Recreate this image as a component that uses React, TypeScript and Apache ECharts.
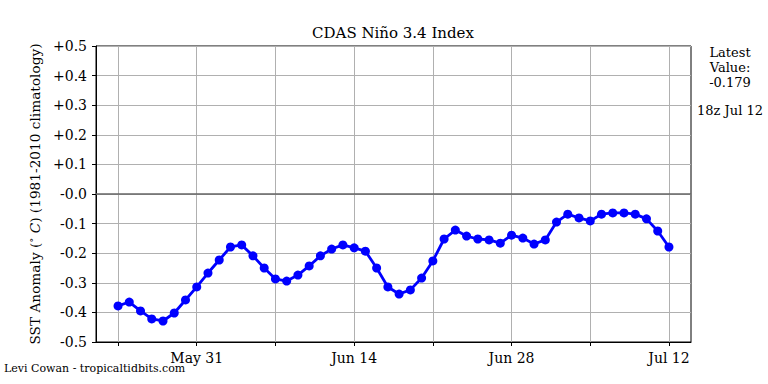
import React, { useEffect, useRef } from "react";
import * as echarts from "echarts";

const dayOffsets = Array.from({ length: 50 }, (_, i) => i);
const anomalies = [
  -0.378, -0.365, -0.395, -0.422, -0.429, -0.402, -0.358, -0.314, -0.267, -0.223,
  -0.179, -0.172, -0.209, -0.25, -0.287, -0.294, -0.274, -0.243, -0.209, -0.186,
  -0.172, -0.182, -0.193, -0.25, -0.314, -0.338, -0.324, -0.284, -0.226, -0.152,
  -0.122, -0.142, -0.152, -0.155, -0.166, -0.139, -0.149, -0.169, -0.155, -0.095,
  -0.068, -0.081, -0.091, -0.068, -0.064, -0.064, -0.068, -0.084, -0.125, -0.179,
];
const tickDays = [0, 7, 14, 21, 28, 35, 42, 49];
const labelDays = [7, 21, 35, 49];
const labelTexts = ["May 31", "Jun 14", "Jun 28", "Jul 12"];
const latestText = "Latest\nValue:\n-0.179";
const latestTime = "18z Jul 12";

const FONT = "DejaVu Serif";

export default function App() {
  const ref = useRef<HTMLDivElement>(null);
  useEffect(() => {
    if (!ref.current) return;
    const chart = echarts.init(ref.current, null, { renderer: "svg" });
    const data = dayOffsets.map((d, i) => [d, anomalies[i]]);
    chart.setOption({
      animation: false,
      backgroundColor: "#ffffff",
      textStyle: { fontFamily: FONT },
      title: {
        text: "CDAS Niño 3.4 Index",
        left: 393,
        textAlign: "center",
        top: 25,
        padding: 0,
        textStyle: { fontFamily: FONT, fontSize: 15, fontWeight: "normal", color: "#000" },
      },
      grid: {
        left: 96,
        right: 77,
        top: 46,
        bottom: 42,
        show: true,
        borderColor: "#000",
        borderWidth: 1,
        backgroundColor: "transparent",
      },
      xAxis: {
        type: "value",
        min: -1.96,
        max: 50.96,
        axisLine: { show: true, onZero: false, lineStyle: { color: "#000" } },
        axisTick: { show: true, length: 4, customValues: tickDays, lineStyle: { color: "#000" } },
        splitLine: { show: true, lineStyle: { color: "#b0b0b0", width: 1 } },
        axisLabel: {
          customValues: labelDays,
          formatter: (v: number) => labelTexts[labelDays.indexOf(Math.round(v))] ?? "",
          fontFamily: FONT,
          fontSize: 14,
          color: "#000",
          margin: 9,
        },
      },
      yAxis: {
        type: "value",
        min: -0.5,
        max: 0.5,
        interval: 0.1,
        name: "SST Anomaly ({i|°} {it|C}) (1981-2010 climatology)",
        nameLocation: "middle",
        nameGap: 50,
        nameTextStyle: {
          fontFamily: FONT,
          fontSize: 13.7,
          color: "#000",
          rich: {
            i: { fontFamily: FONT, fontSize: 10, color: "#000", verticalAlign: "top" },
            it: { fontFamily: FONT, fontSize: 13.7, fontStyle: "italic", color: "#000" },
          },
        },
        axisLine: { show: true, onZero: false, lineStyle: { color: "#000" } },
        axisTick: { show: true, length: 4, lineStyle: { color: "#000" } },
        splitLine: { show: true, lineStyle: { color: "#b0b0b0", width: 1 } },
        axisLabel: {
          formatter: (v: number) => {
            const r = Math.round(v * 10) / 10;
            return r > 0 ? "+" + r.toFixed(1) : "-" + Math.abs(r).toFixed(1);
          },
          fontFamily: FONT,
          fontSize: 14,
          color: "#000",
          margin: 9,
        },
      },
      graphic: [
        {
          type: "text",
          x: 730,
          y: 45,
          style: {
            text: latestText,
            fontFamily: FONT,
            fontSize: 13,
            lineHeight: 15,
            fill: "#000",
            textAlign: "center",
          },
        },
        {
          type: "text",
          x: 730,
          y: 104,
          style: {
            text: latestTime,
            fontFamily: FONT,
            fontSize: 13,
            fill: "#000",
            textAlign: "center",
          },
        },
        {
          type: "text",
          x: 4,
          y: 363,
          style: {
            text: "Levi Cowan - tropicaltidbits.com",
            fontFamily: FONT,
            fontSize: 11,
            fill: "#000",
          },
        },
      ],
      series: [
        {
          type: "line",
          data,
          symbol: "circle",
          symbolSize: 9,
          showSymbol: true,
          lineStyle: { color: "#0000ff", width: 2.8 },
          itemStyle: { color: "#0000ff" },
          z: 3,
          markLine: {
            silent: true,
            symbol: "none",
            label: { show: false },
            lineStyle: { color: "#666", width: 1.5, type: "solid" },
            data: [{ yAxis: 0 }],
            z: 2,
          },
        },
      ],
    });
    return () => chart.dispose();
  }, []);
  return <div ref={ref} style={{ width: 768, height: 384, position: "absolute", left: 0, top: 0 }} />;
}
